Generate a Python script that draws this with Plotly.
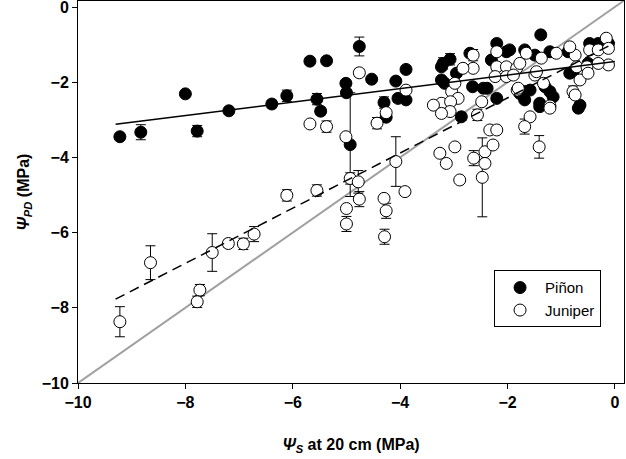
import plotly.graph_objects as go

# Piñon (filled) data
pinon_x = [-9.22, -8.83, -8.00, -7.78, -7.19, -6.39, -6.11, -5.68, -5.37, -5.55, -5.48, -4.76, -5.01, -5.00,
           -4.93, -4.53, -4.08, -3.89, -4.30, -4.26, -4.04, -3.89, -3.20, -3.07, -2.95, -3.23, -3.17, -2.70,
           -2.20, -2.02, -2.30, -2.65, -2.38, -2.20, -2.86, -1.38, -1.96, -1.68, -1.49, -1.21, -0.87, -0.47,
           -0.31, -0.12, -0.78, -0.50, -0.84, -1.58, -1.68, -1.30, -1.21, -1.15, -1.40, -0.65, -1.77, -1.40,
           -0.68, -3.23, -2.45, -1.68]
pinon_y = [-3.45, -3.33, -2.31, -3.30, -2.76, -2.58, -2.36, -1.44, -1.43, -2.45, -2.77, -1.05, -2.03, -2.28,
           -3.66, -1.92, -1.97, -1.66, -2.54, -2.93, -2.43, -2.47, -1.50, -1.39, -1.76, -1.94, -2.03, -1.23,
           -0.97, -1.19, -1.41, -2.12, -2.16, -2.43, -2.92, -0.74, -1.14, -1.14, -1.28, -1.19, -1.19, -0.97,
           -0.97, -0.97, -1.72, -1.50, -1.76, -2.21, -2.47, -2.12, -2.25, -2.39, -2.56, -2.61, -2.30, -2.65,
           -2.69, -1.59, -2.16, -2.25]
pinon_err = [0.08, 0.2, 0, 0.15, 0.05, 0.1, 0.15, 0.08, 0, 0.15, 0.1, 0.25, 0, 0,
             1.38, 0, 0, 0, 0.15, 0, 0.1, 0, 0.15, 0.15, 0, 0, 0, 0,
             0, 0, 0, 0, 0, 0, 0.1, 0, 0, 0, 0, 0, 0, 0,
             0, 0, 0, 0, 0, 0, 0, 0, 0, 0, 0, 0, 0, 0,
             0, 0, 0, 0]

# Juniper (open) data
juniper_x = [-9.22, -8.65, -7.73, -7.78, -7.50, -7.20, -6.92, -6.72, -6.11, -5.55, -5.68, -5.37, -5.01, -4.76,
             -4.43, -4.26, -3.89, -4.93, -4.78, -4.76, -5.00, -5.00, -4.30, -4.26, -4.29, -4.08, -3.91, -2.64,
             -2.64, -2.83, -2.20, -2.20, -2.02, -2.23, -2.02, -1.83, -1.82, -3.04, -2.98, -2.92, -3.23, -3.38,
             -3.06, -2.48, -1.77, -1.65, -1.37, -1.09, -0.74, -0.71, -0.52, -0.47, -0.31, -0.16, -0.12, -0.12,
             -0.31, -0.65, -0.78, -1.33, -1.89, -1.49, -1.80, -1.21, -3.07, -3.23, -2.56, -2.33, -2.20, -2.98,
             -3.26, -3.14, -2.63, -2.42, -2.27, -2.42, -2.47, -2.89, -1.58, -1.68, -1.41, -1.21, -0.74, -1.46,
             -0.50, -0.84]
juniper_y = [-8.37, -6.80, -7.53, -7.84, -6.53, -6.29, -6.30, -6.04, -5.01, -4.88, -3.11, -3.18, -3.45, -1.75,
             -3.09, -2.81, -2.21, -4.56, -4.65, -5.11, -5.36, -5.77, -5.09, -5.42, -6.11, -4.11, -4.91, -1.28,
             -1.63, -1.63, -1.19, -1.59, -1.59, -1.85, -1.85, -1.63, -2.21, -2.25, -2.03, -2.43, -2.56, -2.61,
             -2.52, -2.52, -1.50, -1.23, -1.36, -1.23, -1.28, -1.59, -1.59, -1.14, -1.14, -0.83, -1.10, -1.54,
             -1.50, -1.94, -2.25, -2.03, -1.81, -1.81, -2.16, -2.63, -2.78, -2.83, -2.87, -3.27, -3.27, -3.72,
             -3.89, -4.16, -4.02, -3.85, -3.67, -4.16, -4.53, -4.60, -2.92, -3.18, -3.72, -2.69, -2.34, -1.72,
             -1.76, -1.06]
juniper_err = [0.4, 0.45, 0.15, 0.15, 0.5, 0.1, 0.15, 0.2, 0.15, 0.15, 0, 0.15, 0, 0.1,
               0.15, 0, 0, 0.15, 0.3, 0.2, 0, 0.2, 0, 0.2, 0.2, 0.66, 0.1, 0.15,
               0, 0, 0, 0.1, 0, 0, 0, 0, 0, 0, 0, 0, 0, 0,
               0, 0, 0, 0, 0, 0, 0, 0, 0, 0, 0, 0, 0, 0,
               0, 0, 0.15, 0, 0, 0, 0, 0, 0, 0, 0.15, 0, 0, 0,
               0, 0, 0.2, 0, 0, 0, 1.05, 0, 0, 0.2, 0.3, 0, 0, 0,
               0, 0]

# Regression lines and 1:1 line
pinon_fit_x = [-9.3, 0.0]
pinon_fit_y = [-3.12, -1.45]
juniper_fit_x = [-9.3, 0.0]
juniper_fit_y = [-7.77, -0.95]
one_to_one = [-10, 0.17]

tick_vals = [-10, -8, -6, -4, -2, 0]

fig = go.Figure()

fig.add_trace(go.Scatter(x=one_to_one, y=one_to_one, mode="lines",
                         line=dict(color="#a0a0a0", width=2), showlegend=False, hoverinfo="skip"))

fig.add_trace(go.Scatter(
    x=pinon_x, y=pinon_y, mode="markers", name="Piñon",
    marker=dict(symbol="circle", size=12, color="black", line=dict(color="black", width=1)),
    error_y=dict(type="data", array=pinon_err, color="black", thickness=1, width=5),
))
fig.add_trace(go.Scatter(
    x=juniper_x, y=juniper_y, mode="markers", name="Juniper",
    marker=dict(symbol="circle", size=12, color="white", line=dict(color="black", width=1)),
    error_y=dict(type="data", array=juniper_err, color="black", thickness=1, width=5),
))

fig.add_trace(go.Scatter(x=pinon_fit_x, y=pinon_fit_y, mode="lines",
                         line=dict(color="black", width=1.5), showlegend=False, hoverinfo="skip"))
fig.add_trace(go.Scatter(x=juniper_fit_x, y=juniper_fit_y, mode="lines",
                         line=dict(color="black", width=1.5, dash="10px,6px"), showlegend=False,
                         hoverinfo="skip"))

fam = "Liberation Sans, Arial, sans-serif"
tick_font = dict(family=fam, size=16, color="black", weight="bold")
title_font = dict(family=fam, size=16, color="black", weight="bold")

fig.update_layout(
    width=626, height=459,
    margin=dict(l=78, r=2, t=1, b=76, autoexpand=False),
    plot_bgcolor="white", paper_bgcolor="white",
    font=dict(family=fam, color="black"),
    legend=dict(x=0.762, y=0.295, xanchor="left", yanchor="top",
                bordercolor="black", borderwidth=1, bgcolor="white",
                font=dict(size=15, family=fam, color="black"),
                itemwidth=40, tracegroupgap=0),
    xaxis=dict(range=[-10, 0.17], tickvals=tick_vals, ticks="outside", ticklen=5,
               tickcolor="black", showline=True, linecolor="black", linewidth=1, mirror=True,
               showgrid=False, zeroline=False, tickfont=tick_font, automargin=False,
               ticklabeloverflow="allow",
               title=dict(text="<i>Ψ</i><sub><i>S</i></sub> at 20 cm (MPa)", font=title_font, standoff=28)),
    yaxis=dict(range=[-10, 0.16], tickvals=tick_vals, ticks="outside", ticklen=5,
               tickcolor="black", showline=True, linecolor="black", linewidth=1, mirror=True,
               showgrid=False, zeroline=False, tickfont=tick_font, automargin=False,
               ticklabeloverflow="allow",
               title=dict(text="<i>Ψ</i><sub><i>PD</i></sub> (MPa)", font=title_font, standoff=8)),
)

fig.write_html("out.html", config={"displayModeBar": False},
               post_script="document.body.style.margin='0';document.body.style.overflow='hidden';")
